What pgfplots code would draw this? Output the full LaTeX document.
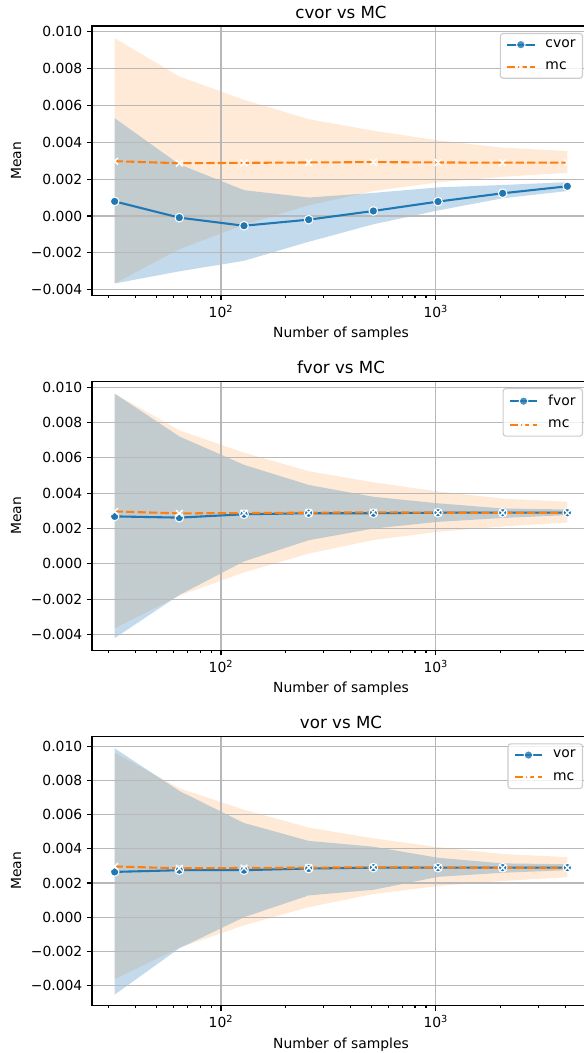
\documentclass[border=0pt]{standalone}
\usepackage{fontspec}
\setmainfont{DejaVu Sans}
\usepackage{pgfplots}
\pgfplotsset{compat=1.18}
\usepgfplotslibrary{fillbetween}
\definecolor{tblue}{HTML}{1F77B4}
\definecolor{torange}{HTML}{FF7F0E}
\definecolor{gridgray}{HTML}{B8B8B8}
\definecolor{legedge}{HTML}{CCCCCC}
\pgfplotsset{
  every axis/.append style={
    scale only axis, width=358.56pt, height=193.9pt,
    xmin=25.1, xmax=5222,
    xtick={100,1000}, xticklabels={10\textsuperscript{2},10\textsuperscript{3}},
    minor xtick={30,40,50,60,70,80,90,200,300,400,500,600,700,800,900,2000,3000,4000,5000},
    ytick={-0.004,-0.002,0,0.002,0.004,0.006,0.008,0.010},
    yticklabels={−0.004,−0.002,0.000,0.002,0.004,0.006,0.008,0.010},
    scaled y ticks=false,
    tick align=outside, tick pos=left,
    major tick length=3.5pt, minor tick length=2pt,
    tick style={black, line width=0.8pt},
    xmajorgrids, ymajorgrids,
    major grid style={gridgray, line width=0.8pt},
    axis line style={line width=0.8pt},
    tick label style={font=\fontsize{10}{12}\selectfont},
    label style={font=\fontsize{10}{12}\selectfont},
    title style={font=\fontsize{12}{14}\selectfont, yshift=-4.3pt},
    xlabel={Number of samples}, ylabel={Mean},
    legend cell align=left,
    legend image code/.code={\draw[mark repeat=2,mark phase=2,#1] plot coordinates {(0pt,0pt) (10pt,0pt) (20pt,0pt)};},
    legend style={at={(1,1)}, anchor=north east, xshift=-5pt, yshift=-5pt,
      draw=legedge, line width=0.8pt, rounded corners=2pt, fill=white, fill opacity=0.8, text opacity=1,
      font=\fontsize{10}{12}\selectfont, inner xsep=4pt, inner ysep=3.5pt, row sep=7pt,
      nodes={inner sep=1pt},
      /tikz/every odd column/.append style={column sep=6pt}},
  },
}
\tikzset{
  meanline/.style={tblue, line width=1.5pt, mark=*, mark size=3.1pt, mark options={fill=tblue, draw=white, line width=0.75pt}},
  mcline/.style={torange, line width=1.5pt, dash pattern=on 6pt off 2.25pt, mark=x, mark size=3.4pt, mark options={draw=white, solid, line width=1pt}},
  bluefill/.style={tblue, fill opacity=0.27, draw=none},
  orangefill/.style={torange, fill opacity=0.16, draw=none},
}
\begin{document}
\begin{tikzpicture}
% ---------- panel 1 ----------
\begin{semilogxaxis}[set layers, at={(66.24pt,-212.6pt)}, anchor=south west,
  ymin=-0.0043, ymax=0.01030, title={cvor vs MC}]
  \addplot[name path=ou1, draw=none, forget plot] coordinates {(32,0.00964) (64,0.00756) (128,0.0063) (256,0.00525) (512,0.00462) (1024,0.0041) (2048,0.0037) (4096,0.00352)};
  \addplot[name path=ol1, draw=none, forget plot] coordinates {(32,-0.00365) (64,-0.0018) (128,-0.00048) (256,0.00058) (512,0.00135) (1024,0.00182) (2048,0.00212) (4096,0.00234)};
  \addplot[orangefill, forget plot] fill between[of=ou1 and ol1, on layer=axis background];
  \addplot[name path=bu1, draw=none, forget plot] coordinates {(32,0.0053) (64,0.0028) (128,0.0014) (256,0.0010) (512,0.00125) (1024,0.00155) (2048,0.00168) (4096,0.00183)};
  \addplot[name path=bl1, draw=none, forget plot] coordinates {(32,-0.00366) (64,-0.0030) (128,-0.00243) (256,-0.0014) (512,-0.00045) (1024,0.0003) (2048,0.00096) (4096,0.00135)};
  \addplot[bluefill, forget plot] fill between[of=bu1 and bl1, on layer=axis background];
  \addplot[meanline] coordinates {(32,0.00079) (64,-0.00009) (128,-0.00053) (256,-0.0002) (512,0.00027) (1024,0.00078) (2048,0.00123) (4096,0.00161)};
  \addlegendentry{cvor}
  \addplot[mcline] coordinates {(32,0.00297) (64,0.00286) (128,0.00288) (256,0.0029) (512,0.00292) (1024,0.0029) (2048,0.00289) (4096,0.00289)};
  \addlegendentry{mc}
\end{semilogxaxis}
% ---------- panel 2 ----------
\begin{semilogxaxis}[set layers, at={(66.24pt,-468.3pt)}, anchor=south west,
  ymin=-0.0049, ymax=0.01035, title={fvor vs MC}]
  \addplot[name path=ou2, draw=none, forget plot] coordinates {(32,0.00964) (64,0.00756) (128,0.0063) (256,0.00525) (512,0.00462) (1024,0.0041) (2048,0.0037) (4096,0.00352)};
  \addplot[name path=ol2, draw=none, forget plot] coordinates {(32,-0.00365) (64,-0.0018) (128,-0.00048) (256,0.00058) (512,0.00135) (1024,0.00182) (2048,0.00212) (4096,0.00234)};
  \addplot[orangefill, forget plot] fill between[of=ou2 and ol2, on layer=axis background];
  \addplot[name path=bu2, draw=none, forget plot] coordinates {(32,0.00964) (64,0.00722) (128,0.00561) (256,0.00447) (512,0.0038) (1024,0.00343) (2048,0.00314) (4096,0.00308)};
  \addplot[name path=bl2, draw=none, forget plot] coordinates {(32,-0.0042) (64,-0.00176) (128,0.00014) (256,0.00134) (512,0.0020) (1024,0.00238) (2048,0.0026) (4096,0.00276)};
  \addplot[bluefill, forget plot] fill between[of=bu2 and bl2, on layer=axis background];
  \addplot[meanline] coordinates {(32,0.00269) (64,0.00262) (128,0.00281) (256,0.00287) (512,0.00287) (1024,0.0029) (2048,0.0029) (4096,0.0029)};
  \addlegendentry{fvor}
  \addplot[mcline] coordinates {(32,0.00297) (64,0.00286) (128,0.00288) (256,0.0029) (512,0.00292) (1024,0.0029) (2048,0.00289) (4096,0.00289)};
  \addlegendentry{mc}
\end{semilogxaxis}
% ---------- panel 3 ----------
\begin{semilogxaxis}[set layers, at={(66.24pt,-724.1pt)}, anchor=south west,
  ymin=-0.0052, ymax=0.0106, title={vor vs MC}]
  \addplot[name path=ou3, draw=none, forget plot] coordinates {(32,0.00964) (64,0.00756) (128,0.0063) (256,0.00525) (512,0.00462) (1024,0.0041) (2048,0.0037) (4096,0.00352)};
  \addplot[name path=ol3, draw=none, forget plot] coordinates {(32,-0.00365) (64,-0.0018) (128,-0.00048) (256,0.00058) (512,0.00135) (1024,0.00182) (2048,0.00212) (4096,0.00234)};
  \addplot[orangefill, forget plot] fill between[of=ou3 and ol3, on layer=axis background];
  \addplot[name path=bu3, draw=none, forget plot] coordinates {(32,0.0099) (64,0.0074) (128,0.00552) (256,0.00447) (512,0.00413) (1024,0.00348) (2048,0.00315) (4096,0.0031)};
  \addplot[name path=bl3, draw=none, forget plot] coordinates {(32,-0.00455) (64,-0.00183) (128,-0.00001) (256,0.00127) (512,0.0016) (1024,0.00236) (2048,0.0026) (4096,0.00275)};
  \addplot[bluefill, forget plot] fill between[of=bu3 and bl3, on layer=axis background];
  \addplot[meanline] coordinates {(32,0.00265) (64,0.00275) (128,0.00275) (256,0.00285) (512,0.0029) (1024,0.0029) (2048,0.0029) (4096,0.0029)};
  \addlegendentry{vor}
  \addplot[mcline] coordinates {(32,0.00297) (64,0.00286) (128,0.00288) (256,0.0029) (512,0.00292) (1024,0.0029) (2048,0.00289) (4096,0.00289)};
  \addlegendentry{mc}
\end{semilogxaxis}
\pgfresetboundingbox
\useasboundingbox (0,0) rectangle (420.48pt,-758.16pt);
\end{tikzpicture}
\end{document}
